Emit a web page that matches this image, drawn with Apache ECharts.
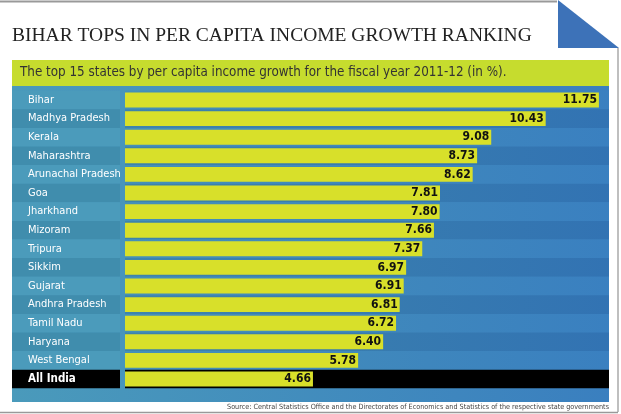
<!DOCTYPE html>
<html>
<head>
<meta charset="utf-8">
<script src="https://cdn.jsdelivr.net/npm/echarts@6/dist/echarts.min.js"></script>
<style>
html,body{margin:0;padding:0;background:#fff;}
#chart{width:621px;height:414px;}
</style>
</head>
<body>
<div id="chart"></div>
<script>
const states = ["Bihar","Madhya Pradesh","Kerala","Maharashtra","Arunachal Pradesh","Goa","Jharkhand","Mizoram","Tripura","Sikkim","Gujarat","Andhra Pradesh","Tamil Nadu","Haryana","West Bengal","All India"];
const growth = [11.75,10.43,9.08,8.73,8.62,7.81,7.80,7.66,7.37,6.97,6.91,6.81,6.72,6.40,5.78,4.66];
const xTicks = [0,12];

const titleText = "BIHAR TOPS IN PER CAPITA INCOME GROWTH RANKING";
const subtitleText = "The top 15 states by per capita income growth for the fiscal year 2011-12 (in %).";
const sourceText = "Source: Central Statistics Office and the Directorates of Economics and Statistics of the respective state governments";

const COND = "'DejaVu Sans Condensed','Liberation Sans Narrow',sans-serif";
const GT = 90.7, GH = 297.6;

function grad(a, b) {
  return {type:'linear', x:0, y:0, x2:1, y2:0, colorStops:[{offset:0,color:a},{offset:1,color:b}]};
}
const labelColors = states.map((s,i) => i === states.length-1 ? '#000' : (i%2===0 ? '#4b9bbb' : '#408dad'));
const barAreaColors = states.map((s,i) => i === states.length-1 ? '#000' : (i%2===0 ? grad('#4590b8','#3a80c0') : grad('#3d84ac','#3273b3')));

const chart = echarts.init(document.getElementById('chart'), null, {renderer:'canvas'});
chart.setOption({
  backgroundColor:'#fff',
  animation:false,
  title:{
    text:titleText, left:12, top:26, padding:0,
    textStyle:{fontFamily:"'Liberation Serif','DejaVu Serif',serif", fontSize:19.5, fontWeight:'normal', color:'#222'}
  },
  graphic:[
    {type:'line', shape:{x1:0,y1:1.5,x2:557,y2:1.5}, style:{stroke:'#999',lineWidth:2}},
    {type:'polygon', shape:{points:[[558,0],[558,48],[619,48]]}, style:{fill:'#3d72b8'}},
    {type:'line', shape:{x1:618,y1:48,x2:618,y2:412}, style:{stroke:'#aaa',lineWidth:1.5}},
    {type:'line', shape:{x1:0,y1:412.5,x2:618,y2:412.5}, style:{stroke:'#999',lineWidth:1.5}},
    {type:'rect', shape:{x:12,y:60,width:597,height:26}, style:{fill:'#c6dc2e'}},
    {type:'text', style:{x:20,y:73,text:subtitleText,fill:'#333',font:"13.3px "+COND,textVerticalAlign:'middle'}},
    {type:'rect', z:-1, shape:{x:12,y:86,width:597,height:316}, style:{fill:grad('#4a9abb','#3a7fbf')}},
    {type:'text', style:{x:609,y:407,text:sourceText,fill:'#444',font:"7.2px "+COND,textAlign:'right',textVerticalAlign:'middle'}}
  ],
  grid:[
    {left:12, width:108, top:GT, height:GH},
    {left:125, right:12, top:GT, height:GH}
  ],
  xAxis:[
    {gridIndex:0, type:'value', show:false, min:0, max:1},
    {gridIndex:1, type:'value', show:false, min:xTicks[0], max:xTicks[1]}
  ],
  yAxis:[
    {gridIndex:0, type:'category', data:states, inverse:true,
     axisLine:{show:false}, axisTick:{show:false, interval:0},
     splitArea:{show:true, interval:0, areaStyle:{color:labelColors}},
     axisLabel:{inside:true, margin:16, interval:0, color:'#fff', fontFamily:COND, fontSize:11,
       formatter:(v)=> v === 'All India' ? '{b|'+v+'}' : v,
       rich:{b:{color:'#fff', fontFamily:COND, fontSize:11.5, fontWeight:'bold'}}}
    },
    {gridIndex:1, type:'category', data:states, inverse:true,
     axisLine:{show:false}, axisTick:{show:false, interval:0}, axisLabel:{show:false},
     splitArea:{show:true, interval:0, areaStyle:{color:barAreaColors}}
    }
  ],
  series:[{
    type:'bar', xAxisIndex:1, yAxisIndex:1, data:growth,
    barCategoryGap:'20%',
    itemStyle:{color:'#d8e02a'},
    label:{show:true, position:'insideRight', distance:2, color:'#111', fontFamily:COND, fontWeight:'bold', fontSize:12,
      formatter:(p)=> p.value.toFixed(2)}
  }]
});
</script>
</body>
</html>
